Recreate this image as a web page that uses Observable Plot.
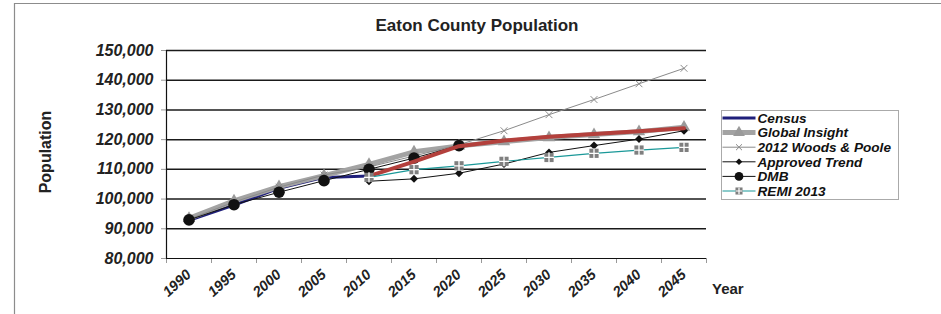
<!DOCTYPE html>
<html><head><meta charset="utf-8">
<script src="https://cdn.jsdelivr.net/npm/d3@7"></script>
<script src="https://cdn.jsdelivr.net/npm/@observablehq/plot@0.6"></script>
<style>
body{margin:0;background:#fff;}
#wrap{position:relative;width:941px;height:314px;overflow:hidden;font-family:"Liberation Sans",Arial,sans-serif;}
#wrap > svg{position:absolute;left:0;top:0;}
g[aria-label="y-axis tick label"]{font:italic bold 16px "Liberation Sans",Arial,sans-serif;fill:#222;}
g[aria-label="x-axis tick label"]{font:italic bold 14.5px "Liberation Sans",Arial,sans-serif;fill:#222;}
</style></head><body><div id="wrap"></div>
<script>
// ---- data ----
const titleText = "Eaton County Population";
const yLabel = "Population";
const xLabel = "Year";
const years = [1990,1995,2000,2005,2010,2015,2020,2025,2030,2035,2040,2045];
const yTicks = [80000,90000,100000,110000,120000,130000,140000,150000];
const seriesNames = ["Census","Global Insight","2012 Woods & Poole","Approved Trend","DMB","REMI 2013"];
const census        = [92879, 98000, 103655, 107300, 107759, null, null, null, null, null, null, null];
const globalInsight = [93500, 99400, 104200, 107900, 111700, 115900, 117900, 119300, 120700, 121700, 122700, 124200];
const woodsPoole    = [93200, 99000, 104000, 108100, 110800, 114500, 118300, 123000, 128400, 133500, 138800, 144000];
const approvedTrend = [null, null, null, null, 106000, 106800, 108700, 111800, 115700, 118000, 120200, 123000];
const dmb           = [93000, 98100, 102300, 106200, 110000, 113800, 118000, null, null, null, null, null];
const remi2013      = [null, null, null, null, 107300, 109900, 111200, 112700, 114000, 115400, 116500, 117400];
const unlabeledRed  = [null, null, null, null, 107700, 112600, 117800, 119700, 121000, 121900, 122800, 123800];

// ---- helpers ----
const rows = (vals) => years.map((y, i) => ({year: y, value: vals[i]})).filter(d => d.value != null);
const step = years[1] - years[0];
const xDomain = [years[0] - step / 2, years[years.length - 1] + step / 2];
const bounds = d3.range(years.length + 1).map(i => xDomain[0] + i * step);

const C = {
  census: "#1f1f7a", gi: "#a3a3a3", giMark: "#9a9a9a", wp: "#8a8a8a",
  black: "#111111", remi: "#1a9898", remiMark: "#7f7f7f", red: "#b3403c"
};

const plot = Plot.plot({
  width: 941, height: 314,
  marginLeft: 166, marginRight: 235, marginTop: 50, marginBottom: 56,
  x: {type: "linear", domain: xDomain},
  y: {domain: [yTicks[0], yTicks[yTicks.length - 1]]},
  style: {fontFamily: "Liberation Sans, Arial, sans-serif", background: "transparent", color: "#222"},
  marks: [
    Plot.gridY({ticks: yTicks.slice(1), stroke: "#1a1a1a", strokeOpacity: 1, strokeWidth: 1.5}),
    Plot.axisY({ticks: yTicks, tickFormat: d3.format(","), tickSize: 5, tickPadding: 8, label: null, stroke: "#999"}),
    Plot.axisX({ticks: bounds, tickSize: 5, tickFormat: () => "", label: null, stroke: "#999"}),
    Plot.axisX({ticks: years, tickSize: 0, tickRotate: -42, tickPadding: 14, tickFormat: d => String(d), label: null}),
    // Census
    Plot.line(rows(census), {x: "year", y: "value", stroke: C.census, strokeWidth: 3}),
    // Global Insight
    Plot.line(rows(globalInsight), {x: "year", y: "value", stroke: C.gi, strokeWidth: 5}),
    Plot.dot(rows(globalInsight), {x: "year", y: "value", symbol: "triangle", r: 4.6, fill: C.giMark}),
    // Woods & Poole
    Plot.line(rows(woodsPoole), {x: "year", y: "value", stroke: C.wp, strokeWidth: 1}),
    Plot.dot(rows(woodsPoole), {x: "year", y: "value", symbol: "times", r: 3.2, stroke: C.wp, strokeWidth: 1}),
    // Approved Trend
    Plot.line(rows(approvedTrend), {x: "year", y: "value", stroke: C.black, strokeWidth: 1}),
    Plot.dot(rows(approvedTrend), {x: "year", y: "value", symbol: "diamond2", r: 3.6, fill: C.black}),
    // DMB
    Plot.line(rows(dmb), {x: "year", y: "value", stroke: C.black, strokeWidth: 1}),
    Plot.dot(rows(dmb), {x: "year", y: "value", symbol: "circle", r: 5.8, fill: C.black}),
    // unlabeled red projection
    Plot.line(rows(unlabeledRed), {x: "year", y: "value", stroke: C.red, strokeWidth: 4}),
    // REMI 2013
    Plot.line(rows(remi2013), {x: "year", y: "value", stroke: C.remi, strokeWidth: 1.2}),
    Plot.dot(rows(remi2013), {x: "year", y: "value", symbol: "square", r: 5.2, fill: C.remiMark}),
    Plot.dot(rows(remi2013), {x: "year", y: "value", symbol: "plus", r: 3.4, stroke: "white", strokeWidth: 1.3}),
    // axis lines
    Plot.ruleY([yTicks[0]], {stroke: "#111", strokeWidth: 1.2}),
    Plot.ruleX([xDomain[0]], {stroke: "#111", strokeWidth: 1.2})
  ]
});
const wrap = document.getElementById("wrap");
wrap.appendChild(plot);

// ---- overlay: frame, titles, legend ----
const svg = d3.select(wrap).append("svg").attr("width", 941).attr("height", 314)
  .style("pointer-events", "none").style("font-family", "Liberation Sans, Arial, sans-serif");
svg.append("path").attr("d", "M14.5,330V3.5H960").attr("fill", "none").attr("stroke", "#8c8c8c").attr("stroke-width", 1.2);
svg.append("text").attr("x", 477).attr("y", 31).attr("text-anchor", "middle")
  .attr("font-size", 17).attr("font-weight", "bold").attr("fill", "#222").text(titleText);
svg.append("text").attr("transform", "translate(51,152) rotate(-90)").attr("text-anchor", "middle")
  .attr("font-size", 16).attr("font-weight", "bold").attr("fill", "#222").text(yLabel);
svg.append("text").attr("x", 712).attr("y", 294).attr("font-size", 15).attr("font-weight", "bold").attr("fill", "#222").text(xLabel);

const lg = svg.append("g").attr("transform", "translate(721.5,110.5)");
lg.append("rect").attr("width", 177).attr("height", 89).attr("fill", "white").attr("stroke", "#aaa");
const legendStyles = [
  {stroke: C.census, sw: 3, sym: null},
  {stroke: C.gi, sw: 5, sym: d3.symbolTriangle, size: 60, fill: C.giMark},
  {stroke: C.wp, sw: 1, sym: d3.symbolTimes, size: 25, stroke2: C.wp},
  {stroke: C.black, sw: 1, sym: d3.symbolDiamond2, size: 28, fill: C.black},
  {stroke: C.black, sw: 1, sym: d3.symbolCircle, size: 60, fill: C.black},
  {stroke: C.remi, sw: 1.2, sym: d3.symbolSquare, size: 50, fill: C.remiMark, plus: true}
];
seriesNames.forEach((name, i) => {
  const s = legendStyles[i];
  const g = lg.append("g").attr("transform", `translate(0,${7.5 + i * 14.6})`);
  g.append("line").attr("x1", 1).attr("x2", 34).attr("stroke", s.stroke).attr("stroke-width", s.sw);
  if (s.sym) {
    const p = g.append("path").attr("transform", "translate(17.5,0)").attr("d", d3.symbol(s.sym, s.size)());
    if (s.stroke2) p.attr("fill", "none").attr("stroke", s.stroke2).attr("stroke-width", 1);
    else p.attr("fill", s.fill);
    if (s.plus) g.append("path").attr("transform", "translate(17.5,0)").attr("d", d3.symbol(d3.symbolPlus, 16)())
      .attr("fill", "none").attr("stroke", "white").attr("stroke-width", 1.2);
  }
  g.append("text").attr("x", 36).attr("y", 4.8).attr("font-size", 13.6).attr("font-weight", "bold")
    .attr("font-style", "italic").attr("fill", "#111").text(name);
});
</script></body></html>
